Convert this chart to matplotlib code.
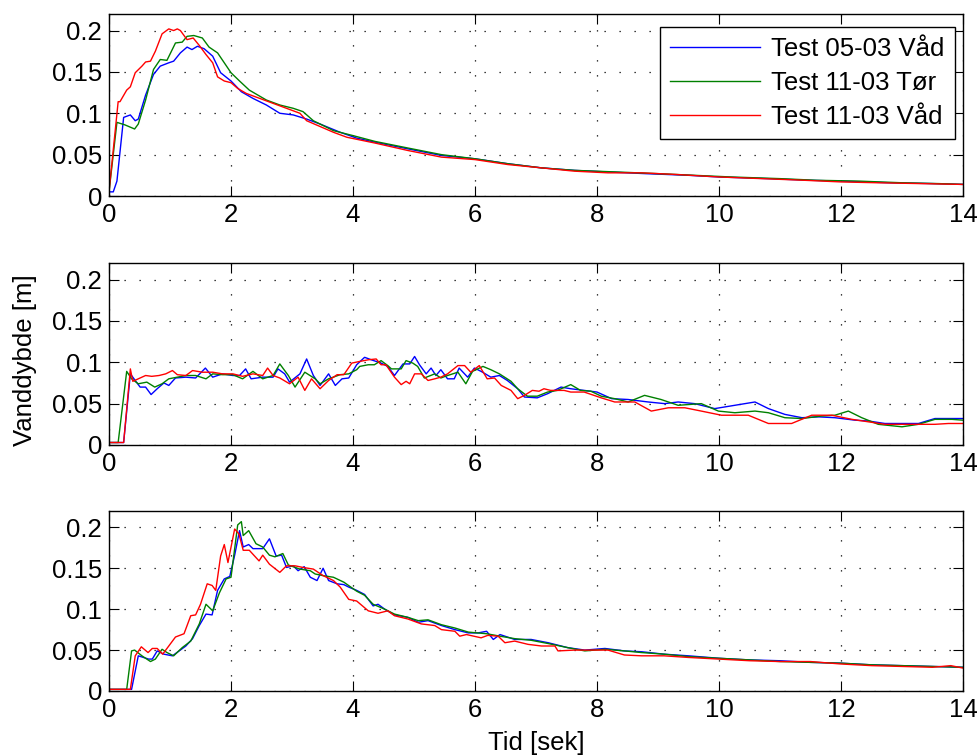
import matplotlib
matplotlib.use("Agg")
import matplotlib.pyplot as plt
import numpy as np

plt.rcParams['font.family'] = ['Liberation Sans', 'DejaVu Sans']

labels = ["Test 05-03 Våd", "Test 11-03 Tør", "Test 11-03 Våd"]
colors = ["#0000ff", "#008000", "#ff0000"]
xticks = [0, 2, 4, 6, 8, 10, 12, 14]
yticks = [0, 0.05, 0.1, 0.15, 0.2]
yticklabels = ["0", "0.05", "0.1", "0.15", "0.2"]

# ---- Panel 1 ----
p1_blue_t = [0, 0.07, 0.13, 0.24, 0.35, 0.43, 0.48, 0.6, 0.73, 0.84, 0.98, 1.06, 1.17, 1.28, 1.36, 1.45, 1.56, 1.7, 1.83, 2.0, 2.17, 2.36, 2.58, 2.8, 3.02, 3.24, 3.46, 3.79, 4.06, 4.36, 4.9, 5.45, 6.0, 6.54, 7.09, 7.63, 8.2, 8.8, 9.5, 10, 10.8, 11.5, 12, 12.8, 13.5, 14]
p1_blue_v = [0.005, 0.005, 0.018, 0.095, 0.098, 0.091, 0.093, 0.122, 0.147, 0.157, 0.161, 0.163, 0.173, 0.18, 0.177, 0.181, 0.178, 0.169, 0.149, 0.139, 0.126, 0.118, 0.11, 0.1, 0.098, 0.093, 0.087, 0.077, 0.07, 0.065, 0.057, 0.049, 0.045, 0.039, 0.034, 0.031, 0.029, 0.027, 0.025, 0.023, 0.021, 0.019, 0.018, 0.016, 0.015, 0.014]
p1_green_t = [0, 0.13, 0.26, 0.42, 0.48, 0.6, 0.73, 0.84, 0.95, 1.09, 1.2, 1.28, 1.39, 1.53, 1.64, 1.78, 2.0, 2.14, 2.3, 2.58, 2.8, 3.02, 3.18, 3.35, 3.68, 4.0, 4.36, 4.9, 5.45, 6.0, 6.54, 7.09, 7.63, 8.34, 9, 9.6, 10.2, 11, 11.6, 12.3, 13, 13.6, 14]
p1_green_v = [0.005, 0.089, 0.086, 0.081, 0.087, 0.116, 0.153, 0.165, 0.164, 0.185, 0.186, 0.193, 0.194, 0.191, 0.18, 0.173, 0.149, 0.139, 0.128, 0.116, 0.11, 0.106, 0.102, 0.091, 0.079, 0.073, 0.066, 0.058, 0.05, 0.045, 0.039, 0.034, 0.031, 0.029, 0.027, 0.025, 0.023, 0.021, 0.019, 0.018, 0.016, 0.015, 0.014]
p1_red_t = [0, 0.15, 0.18, 0.29, 0.35, 0.43, 0.54, 0.6, 0.68, 0.76, 0.87, 0.98, 1.06, 1.12, 1.17, 1.28, 1.38, 1.48, 1.59, 1.7, 1.78, 1.89, 2.0, 2.11, 2.25, 2.47, 2.69, 2.91, 3.13, 3.24, 3.46, 3.68, 3.9, 4.36, 4.9, 5.45, 6.0, 6.54, 7.09, 7.63, 8.18, 8.73, 9.3, 10, 10.7, 11.4, 12, 12.6, 13.3, 14]
p1_red_v = [0.005, 0.114, 0.114, 0.128, 0.132, 0.149, 0.157, 0.162, 0.163, 0.175, 0.196, 0.202, 0.2, 0.202, 0.2, 0.189, 0.191, 0.182, 0.171, 0.161, 0.144, 0.139, 0.137, 0.13, 0.124, 0.118, 0.112, 0.106, 0.1, 0.091, 0.084, 0.077, 0.071, 0.064, 0.055, 0.047, 0.044, 0.038, 0.034, 0.03, 0.028, 0.028, 0.026, 0.023, 0.021, 0.019, 0.017, 0.016, 0.015, 0.014]

# ---- Panel 2 ----
p2_blue_t = [0, 0.24, 0.35, 0.43, 0.51, 0.6, 0.69, 0.79, 0.9, 0.98, 1.09, 1.26, 1.42, 1.58, 1.7, 1.86, 2.03, 2.14, 2.24, 2.33, 2.52, 2.69, 2.77, 2.88, 2.96, 3.13, 3.24, 3.35, 3.46, 3.6, 3.71, 3.82, 3.93, 4.06, 4.19, 4.3, 4.46, 4.57, 4.68, 4.82, 4.93, 5.01, 5.09, 5.2, 5.28, 5.36, 5.44, 5.55, 5.66, 5.74, 5.88, 5.99, 6.1, 6.26, 6.4, 6.53, 6.7, 6.81, 7.02, 7.19, 7.41, 7.57, 7.79, 8.0, 8.24, 8.51, 8.84, 9.11, 9.33, 9.6, 9.93, 10.26, 10.59, 10.81, 11.08, 11.36, 11.63, 11.9, 12.23, 12.45, 12.72, 13.27, 13.54, 14]
p2_blue_v = [0.003, 0.003, 0.086, 0.078, 0.07, 0.07, 0.061, 0.068, 0.075, 0.072, 0.081, 0.082, 0.081, 0.093, 0.082, 0.086, 0.084, 0.084, 0.092, 0.08, 0.082, 0.082, 0.092, 0.086, 0.076, 0.086, 0.104, 0.084, 0.072, 0.086, 0.072, 0.08, 0.081, 0.097, 0.106, 0.103, 0.099, 0.095, 0.084, 0.098, 0.098, 0.107, 0.097, 0.086, 0.093, 0.084, 0.091, 0.08, 0.08, 0.093, 0.082, 0.093, 0.089, 0.082, 0.084, 0.078, 0.068, 0.058, 0.057, 0.062, 0.07, 0.068, 0.066, 0.064, 0.056, 0.055, 0.052, 0.05, 0.052, 0.05, 0.044, 0.048, 0.052, 0.044, 0.037, 0.033, 0.034, 0.033, 0.03, 0.029, 0.026, 0.026, 0.032, 0.032]
p2_green_t = [0, 0.15, 0.29, 0.37, 0.48, 0.62, 0.75, 0.87, 0.98, 1.12, 1.26, 1.42, 1.59, 1.7, 1.86, 2.03, 2.19, 2.36, 2.52, 2.69, 2.8, 2.94, 3.05, 3.21, 3.38, 3.46, 3.6, 3.79, 3.93, 4.06, 4.11, 4.25, 4.35, 4.46, 4.57, 4.63, 4.79, 4.87, 4.98, 5.06, 5.17, 5.34, 5.44, 5.55, 5.72, 5.85, 5.96, 6.13, 6.26, 6.4, 6.59, 6.7, 6.86, 7.02, 7.19, 7.35, 7.57, 7.73, 7.9, 8.07, 8.29, 8.51, 8.78, 9.05, 9.33, 9.71, 9.99, 10.26, 10.59, 10.81, 11.08, 11.36, 11.68, 11.9, 12.12, 12.34, 12.61, 13.0, 13.27, 13.54, 13.82, 14]
p2_green_v = [0.003, 0.003, 0.089, 0.08, 0.074, 0.076, 0.07, 0.074, 0.08, 0.082, 0.084, 0.084, 0.08, 0.086, 0.085, 0.085, 0.08, 0.089, 0.08, 0.084, 0.098, 0.084, 0.07, 0.088, 0.08, 0.074, 0.08, 0.085, 0.086, 0.091, 0.095, 0.097, 0.097, 0.102, 0.096, 0.092, 0.092, 0.102, 0.099, 0.095, 0.081, 0.086, 0.081, 0.084, 0.088, 0.074, 0.089, 0.095, 0.091, 0.086, 0.077, 0.068, 0.059, 0.059, 0.064, 0.066, 0.073, 0.066, 0.065, 0.059, 0.056, 0.052, 0.06, 0.055, 0.048, 0.05, 0.041, 0.039, 0.041, 0.039, 0.033, 0.032, 0.035, 0.036, 0.041, 0.033, 0.025, 0.022, 0.025, 0.031, 0.031, 0.03]
p2_red_t = [0, 0.24, 0.35, 0.39, 0.48, 0.6, 0.7, 0.82, 0.93, 1.04, 1.12, 1.26, 1.37, 1.53, 1.7, 1.86, 2.03, 2.19, 2.36, 2.52, 2.6, 2.69, 2.8, 2.96, 3.1, 3.21, 3.32, 3.46, 3.6, 3.74, 3.85, 3.98, 4.11, 4.25, 4.38, 4.46, 4.54, 4.68, 4.79, 4.87, 4.93, 5.01, 5.12, 5.23, 5.34, 5.44, 5.55, 5.72, 5.83, 5.93, 6.07, 6.2, 6.32, 6.43, 6.59, 6.7, 6.81, 6.94, 7.05, 7.13, 7.24, 7.46, 7.57, 7.79, 8.07, 8.29, 8.62, 8.89, 9.17, 9.44, 9.71, 10.04, 10.48, 10.81, 11.19, 11.52, 11.85, 12.18, 12.72, 13.27, 13.54, 13.76, 14]
p2_red_v = [0.003, 0.003, 0.092, 0.077, 0.08, 0.084, 0.083, 0.084, 0.086, 0.09, 0.085, 0.084, 0.09, 0.088, 0.088, 0.086, 0.086, 0.083, 0.086, 0.084, 0.093, 0.084, 0.081, 0.074, 0.082, 0.066, 0.08, 0.068, 0.078, 0.085, 0.085, 0.099, 0.101, 0.103, 0.104, 0.097, 0.097, 0.082, 0.073, 0.077, 0.074, 0.086, 0.086, 0.078, 0.08, 0.082, 0.086, 0.096, 0.096, 0.088, 0.096, 0.08, 0.081, 0.072, 0.066, 0.056, 0.06, 0.066, 0.065, 0.068, 0.066, 0.066, 0.064, 0.064, 0.057, 0.052, 0.052, 0.041, 0.045, 0.045, 0.041, 0.036, 0.036, 0.026, 0.026, 0.036, 0.036, 0.031, 0.025, 0.025, 0.025, 0.026, 0.026]

# ---- Panel 3 ----
p3_blue_t = [0, 0.37, 0.48, 0.65, 0.71, 0.79, 0.9, 1.04, 1.26, 1.37, 1.48, 1.59, 1.69, 1.78, 1.89, 1.98, 2.06, 2.14, 2.2, 2.29, 2.36, 2.52, 2.63, 2.74, 2.83, 2.91, 3.02, 3.1, 3.2, 3.3, 3.41, 3.51, 3.6, 3.74, 3.85, 3.93, 4.06, 4.19, 4.33, 4.41, 4.52, 4.68, 4.9, 5.07, 5.23, 5.45, 5.67, 5.89, 6.05, 6.19, 6.3, 6.41, 6.65, 6.92, 7.2, 7.52, 7.8, 8.13, 8.45, 8.73, 9.1, 9.5, 10, 10.5, 11, 11.5, 12, 12.5, 13, 13.5, 14]
p3_blue_v = [0.002, 0.002, 0.043, 0.039, 0.039, 0.049, 0.045, 0.043, 0.055, 0.064, 0.08, 0.094, 0.093, 0.123, 0.137, 0.14, 0.166, 0.196, 0.176, 0.179, 0.174, 0.174, 0.186, 0.165, 0.166, 0.151, 0.153, 0.147, 0.152, 0.139, 0.135, 0.15, 0.135, 0.131, 0.13, 0.127, 0.123, 0.118, 0.104, 0.106, 0.1, 0.093, 0.09, 0.084, 0.086, 0.08, 0.075, 0.071, 0.071, 0.073, 0.063, 0.069, 0.063, 0.063, 0.059, 0.053, 0.05, 0.052, 0.049, 0.048, 0.045, 0.043, 0.04, 0.038, 0.037, 0.035, 0.034, 0.032, 0.031, 0.03, 0.029]
p3_green_t = [0, 0.29, 0.37, 0.42, 0.54, 0.68, 0.76, 0.87, 0.95, 1.06, 1.2, 1.34, 1.48, 1.59, 1.7, 1.81, 1.92, 2.0, 2.11, 2.17, 2.2, 2.29, 2.41, 2.52, 2.63, 2.72, 2.85, 2.94, 3.13, 3.3, 3.38, 3.51, 3.68, 3.85, 4.06, 4.19, 4.33, 4.52, 4.68, 4.9, 5.07, 5.23, 5.45, 5.67, 5.89, 6.19, 6.41, 6.65, 6.92, 7.2, 7.52, 7.8, 8.13, 8.45, 8.73, 9.1, 9.5, 10, 10.5, 11, 11.5, 12, 12.5, 13, 13.5, 14]
p3_green_v = [0.002, 0.002, 0.049, 0.05, 0.043, 0.036, 0.039, 0.051, 0.047, 0.043, 0.053, 0.061, 0.082, 0.106, 0.098, 0.12, 0.137, 0.139, 0.203, 0.207, 0.19, 0.196, 0.18, 0.176, 0.166, 0.164, 0.168, 0.154, 0.149, 0.147, 0.143, 0.141, 0.139, 0.133, 0.122, 0.117, 0.106, 0.1, 0.094, 0.09, 0.086, 0.087, 0.081, 0.077, 0.072, 0.07, 0.067, 0.064, 0.062, 0.058, 0.053, 0.049, 0.051, 0.049, 0.047, 0.045, 0.042, 0.04, 0.038, 0.036, 0.035, 0.034, 0.032, 0.031, 0.03, 0.029]
p3_red_t = [0, 0.35, 0.43, 0.53, 0.64, 0.71, 0.79, 0.88, 0.98, 1.09, 1.23, 1.34, 1.42, 1.5, 1.61, 1.69, 1.75, 1.83, 1.89, 1.95, 2.06, 2.13, 2.2, 2.3, 2.46, 2.52, 2.63, 2.8, 2.91, 3.05, 3.18, 3.35, 3.51, 3.68, 3.79, 3.93, 4.06, 4.25, 4.41, 4.57, 4.68, 4.9, 5.12, 5.34, 5.45, 5.67, 5.75, 5.86, 6.1, 6.21, 6.38, 6.49, 6.65, 6.87, 7.09, 7.31, 7.36, 7.63, 8.18, 8.45, 8.73, 9.1, 9.5, 10, 10.5, 11, 11.5, 12, 12.5, 13, 13.5, 13.8, 14]
p3_red_v = [0.002, 0.002, 0.043, 0.054, 0.047, 0.052, 0.052, 0.045, 0.055, 0.066, 0.07, 0.092, 0.093, 0.106, 0.131, 0.129, 0.123, 0.165, 0.179, 0.157, 0.198, 0.192, 0.172, 0.172, 0.159, 0.166, 0.155, 0.145, 0.153, 0.153, 0.151, 0.149, 0.141, 0.135, 0.127, 0.112, 0.11, 0.098, 0.095, 0.098, 0.092, 0.088, 0.082, 0.08, 0.075, 0.073, 0.067, 0.069, 0.065, 0.068, 0.067, 0.059, 0.061, 0.057, 0.055, 0.055, 0.049, 0.05, 0.05, 0.044, 0.043, 0.043, 0.041, 0.039, 0.037, 0.036, 0.036, 0.033, 0.031, 0.03, 0.029, 0.031, 0.028]

panels = [
    [(p1_blue_t, p1_blue_v), (p1_green_t, p1_green_v), (p1_red_t, p1_red_v)],
    [(p2_blue_t, p2_blue_v), (p2_green_t, p2_green_v), (p2_red_t, p2_red_v)],
    [(p3_blue_t, p3_blue_v), (p3_green_t, p3_green_v), (p3_red_t, p3_red_v)],
]

W, H = 978, 755
fig = plt.figure(figsize=(W / 100, H / 100), dpi=100)
boxes = [(109, 14, 963, 196), (109, 263, 963, 445), (109, 511, 963, 691)]
FS = 18.5
axes = []
for (x0, y0, x1, y1), series in zip(boxes, panels):
    ax = fig.add_axes([x0 / W, 1 - y1 / H, (x1 - x0) / W, (y1 - y0) / H])
    for (t, v), c, lab in zip(series, colors, labels):
        ax.plot(t, v, color=c, lw=1.0, label=lab)
    ax.set_xlim(0, 14)
    ax.set_ylim(0, 0.22)
    ax.set_xticks(xticks)
    ax.set_yticks(yticks)
    ax.set_yticklabels(yticklabels)
    ax.grid(True, color='black', linestyle=(0, (1, 11)), linewidth=0.9)
    ax.tick_params(direction='in', top=True, right=True, length=7, width=0.8, labelsize=FS, pad=5)
    for s in ax.spines.values():
        s.set_linewidth(1.0)
    axes.append(ax)

leg = axes[0].legend(loc='upper right', bbox_to_anchor=(955 / W, 1 - 27 / H),
                     bbox_transform=fig.transFigure, borderaxespad=0,
                     fontsize=FS, frameon=True, fancybox=False,
                     edgecolor='black', framealpha=1, handlelength=3.5,
                     borderpad=0.4, labelspacing=0.38, handletextpad=0.45)
leg.get_frame().set_linewidth(1.0)

fig.text(25 / W, 1 - 360 / H, "Vanddybde [m]", fontsize=FS, rotation=90,
         ha='center', va='center')
fig.text(536 / W, 1 - 743 / H, "Tid [sek]", fontsize=FS, ha='center', va='center')

fig.savefig("out.png", dpi=100)
